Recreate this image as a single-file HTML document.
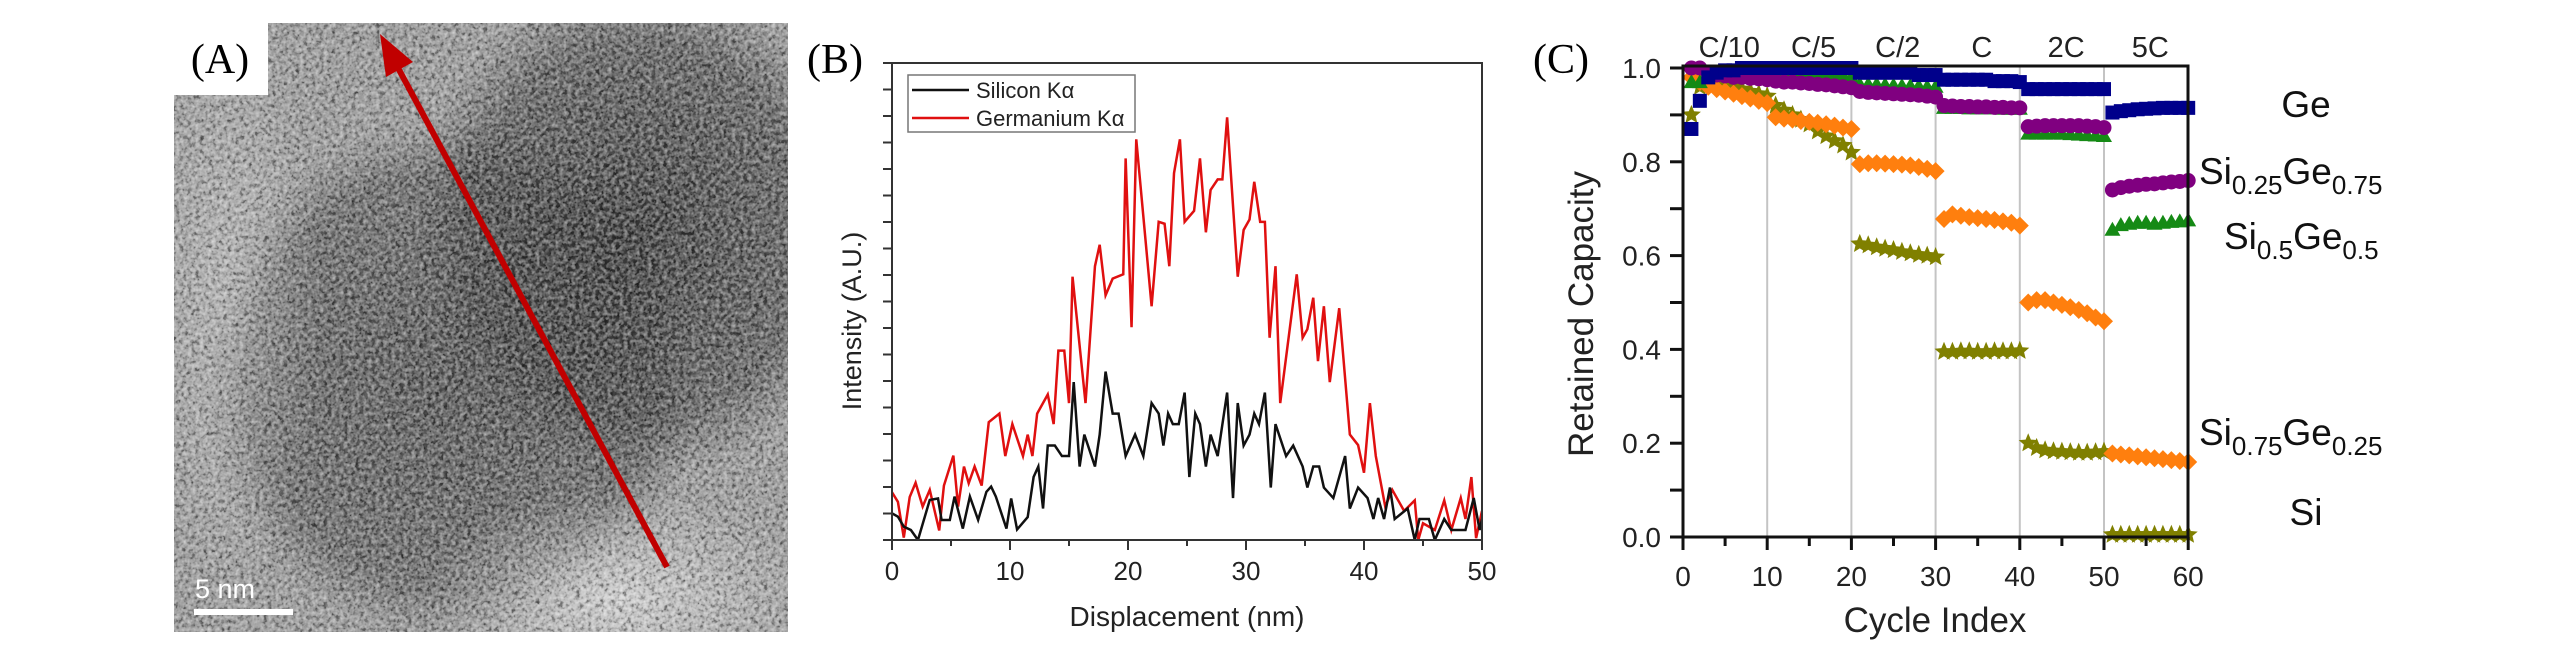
<!DOCTYPE html>
<html><head><meta charset="utf-8"><style>
html,body{margin:0;padding:0;background:#fff;width:2567px;height:661px;overflow:hidden;}
svg{display:block;}
text{font-family:"Liberation Sans",Arial,sans-serif;}
.serif{font-family:"Liberation Serif","Times New Roman",serif;}
</style></head><body>
<svg id="fig" width="2567" height="661" viewBox="0 0 2567 661" xmlns="http://www.w3.org/2000/svg">
<defs>
  <filter id="tex" x="0" y="0" width="100%" height="100%">
    <feTurbulence type="fractalNoise" baseFrequency="0.22" numOctaves="2" seed="4" result="n"/>
    <feColorMatrix in="n" type="matrix" values="0 0 0 0 0  0 0 0 0 0  0 0 0 0 0  1.8 0 0 0 -0.6" result="dark"/>
    <feTurbulence type="fractalNoise" baseFrequency="0.25" numOctaves="2" seed="9" result="n2"/>
    <feColorMatrix in="n2" type="matrix" values="0 0 0 0 1  0 0 0 0 1  0 0 0 0 1  1.7 0 0 0 -0.65" result="light"/>
    <feMerge><feMergeNode in="dark"/><feMergeNode in="light"/></feMerge>
  </filter>
  <radialGradient id="p1" cx="0.5" cy="0.5" r="0.5">
    <stop offset="0" stop-color="#3a3a3a" stop-opacity="0.75"/>
    <stop offset="0.8" stop-color="#444" stop-opacity="0.55"/>
    <stop offset="1" stop-color="#555" stop-opacity="0"/>
  </radialGradient>
  <radialGradient id="p2" cx="0.5" cy="0.5" r="0.5">
    <stop offset="0" stop-color="#222" stop-opacity="0.8"/>
    <stop offset="0.75" stop-color="#333" stop-opacity="0.55"/>
    <stop offset="1" stop-color="#444" stop-opacity="0"/>
  </radialGradient>
  <radialGradient id="p3" cx="0.5" cy="0.5" r="0.5">
    <stop offset="0" stop-color="#e0e0e0" stop-opacity="0.8"/>
    <stop offset="1" stop-color="#ddd" stop-opacity="0"/>
  </radialGradient>
  <clipPath id="temclip"><polygon points="268,23 788,23 788,632 174,632 174,95 268,95"/></clipPath>
  <clipPath id="bclip"><rect x="892" y="63" width="590" height="477"/></clipPath>
</defs>

<!-- Panel A -->
<g id="panel-a">
  <g clip-path="url(#temclip)">
    <rect x="174" y="23" width="614" height="609" fill="#9a9a9a"/>
    <ellipse cx="450" cy="380" rx="250" ry="260" fill="url(#p1)"/>
    <ellipse cx="640" cy="230" rx="230" ry="250" fill="url(#p2)"/>
    <ellipse cx="620" cy="600" rx="200" ry="110" fill="url(#p3)"/>
    <ellipse cx="230" cy="300" rx="90" ry="300" fill="url(#p3)" opacity="0.5"/>
    <rect x="174" y="23" width="614" height="609" filter="url(#tex)" opacity="0.6"/>
  </g>
  <text class="serif" x="220" y="73" font-size="42" text-anchor="middle" fill="#000">(A)</text>
  <g>
    <line x1="667" y1="567" x2="397" y2="66" stroke="#c00000" stroke-width="6"/>
    <polygon points="380,34 413,62 386,77" fill="#c00000"/>
  </g>
  <text x="195" y="598" font-size="27" fill="#fff">5 nm</text>
  <rect x="194" y="609" width="99" height="6" fill="#fff"/>
</g>

<!-- Panel B -->
<g id="panel-b">
  <text class="serif" x="835" y="73" font-size="42" text-anchor="middle">(B)</text>
  <g id="b-ticks"></g>
  <g id="b-lines" clip-path="url(#bclip)"></g>
  <rect x="892" y="63" width="590" height="477" fill="none" stroke="#333" stroke-width="2"/>
  <text x="0" y="0" font-size="27" text-anchor="middle" fill="#222" transform="translate(861,321) rotate(-90)">Intensity (A.U.)</text>
  <text x="1187" y="626" font-size="28" text-anchor="middle" fill="#222">Displacement (nm)</text>
  <g>
    <rect x="908" y="75" width="227" height="57" fill="#fff" stroke="#777" stroke-width="1.5"/>
    <line x1="912" y1="90" x2="969" y2="90" stroke="#111" stroke-width="2.5"/>
    <text x="976" y="98" font-size="22" fill="#222">Silicon Kα</text>
    <line x1="912" y1="118" x2="969" y2="118" stroke="#e01010" stroke-width="2.5"/>
    <text x="976" y="126" font-size="22" fill="#222">Germanium Kα</text>
  </g>
</g>

<!-- Panel C -->
<g id="panel-c">
  <text class="serif" x="1561" y="73" font-size="42" text-anchor="middle">(C)</text>
  <g id="c-grid"></g>
  <g id="c-marks"></g>
  <g id="c-ticks"></g>
  <rect x="1683" y="66" width="505" height="471" fill="none" stroke="#111" stroke-width="3"/>
  <text font-size="35" text-anchor="middle" fill="#222" transform="translate(1593,314) rotate(-90)">Retained Capacity</text>
  <text x="1935" y="632" font-size="35" text-anchor="middle" fill="#222">Cycle Index</text>
  <g id="c-rates"></g>
  <g font-size="37" fill="#111">
    <text x="2306" y="117" text-anchor="middle">Ge</text>
    <text x="2199" y="184">Si<tspan font-size="26" dy="10">0.25</tspan><tspan dy="-10">Ge</tspan><tspan font-size="26" dy="10">0.75</tspan></text>
    <text x="2224" y="249">Si<tspan font-size="26" dy="10">0.5</tspan><tspan dy="-10">Ge</tspan><tspan font-size="26" dy="10">0.5</tspan></text>
    <text x="2199" y="445">Si<tspan font-size="26" dy="10">0.75</tspan><tspan dy="-10">Ge</tspan><tspan font-size="26" dy="10">0.25</tspan></text>
    <text x="2306" y="525" text-anchor="middle">Si</text>
  </g>
</g>

<script>
// ---------- Panel B data ----------
const geDisp = [0,0.5,1,1.5,2,2.6,3.2,4,4.4,5.2,5.6,6.1,6.5,7,7.6,8.2,9.1,9.6,10.2,11.1,11.5,11.9,12.3,13.2,13.7,14.1,14.6,15,15.3,16.4,17.2,17.6,18.1,18.7,19.6,19.8,20.3,20.7,22,22.6,23.1,23.5,23.9,24.4,24.8,25.6,26.1,26.6,27,27.6,28,28.4,29.3,29.8,30.3,30.7,31.2,31.6,32,32.5,32.9,34.3,34.8,35.2,35.7,36.1,36.6,37.1,37.9,38.8,39.5,40,40.5,41,41.8,42.4,43.4,44.3,44.6,45,46,46.8,47.4,48.2,48.6,49.1,49.5,50];
const geIntensity = [10,8,0.5,9,12,7,10.5,2,11.4,17.7,7,15.4,11.9,15.4,11.4,24.7,26.5,17.6,24.3,17.6,22.1,17.6,26.5,30.5,24.3,39.7,39.7,28.7,55.2,28.7,57.4,61.9,51.3,54.8,55.7,80,44.6,84,49,66.7,66.3,57.4,76.9,84,66.7,69,80,64.5,73.4,75.6,75.6,88.6,55.2,65,67.2,75.1,66.7,66.7,42.4,57.4,28.7,55.7,42.4,44.2,50.8,37.5,49,33.1,48.6,22.1,19.9,14.1,28.7,17.6,7,10.5,6.1,8.3,0,3.5,2.1,8.3,2.1,8.8,4.4,13.2,0.4,6.1];
const siDisp = [0,0.5,1,1.6,2.2,3.2,3.9,4.2,4.9,5.3,6,6.6,7.3,8,8.4,8.8,9.7,10.1,10.6,11.5,12,12.4,12.8,13.2,13.8,14.4,15,15.4,15.9,16.3,17.2,17.6,18.1,18.7,19.2,19.8,20.6,21.3,22,22.6,23,23.4,23.8,24.3,24.8,25.2,25.7,26.1,26.6,27,27.6,28.4,28.9,29.3,29.8,30.3,30.7,31.1,31.6,32.1,32.5,33.4,34,34.8,35.2,35.7,36.2,36.6,37.4,38.4,38.8,39.5,40.3,40.8,41.2,41.7,42.2,42.6,43.7,44.3,44.7,45.5,46,46.8,47.4,48.6,49.3,49.8,50];
const siIntensity = [5.6,4.9,2.8,2.1,0,8.4,8.7,4.2,4.2,9.1,2.4,9.1,4.2,10.1,11.2,9.1,2.4,8.7,2.2,4.8,13.2,15.4,6.6,19.8,19.8,17.6,17.6,33.1,15.4,22.1,15.4,22.1,35.3,26.5,26.5,17.6,22.1,17.6,28.7,26.5,19.8,26.5,24.3,24.3,30.9,13.2,26.5,24.3,15.4,22.1,17.6,30.9,8.8,28.7,19.8,22.1,26.5,24.3,30.9,11,24.3,17.6,19.8,15.4,11,15.4,15.4,11,8.8,17.6,6.6,11,8.8,4.4,8.8,4.4,11,4.4,6.6,0,4.4,4.4,0,4.4,2.1,2.1,8.8,2.1,4.4];
const bXTicks = [0,10,20,30,40,50];

// ---------- Panel C data ----------
const rateLabels = ['C/10','C/5','C/2','C','2C','5C'];
const rateBoundaries = [10,20,30,40,50];
const cXTicks = [0,10,20,30,40,50,60];
const cYTicks = [0.0,0.2,0.4,0.6,0.8,1.0];
const capGe = [0.87,0.93,0.98,0.99,0.995,0.995,1.0,1.0,1.0,1.0, 1.0,1.0,1.0,1.0,1.0,1.0,1.0,1.0,1.0,1.0, 0.99,0.99,0.99,0.99,0.99,0.99,0.99,0.985,0.985,0.985, 0.975,0.975,0.975,0.975,0.975,0.975,0.972,0.972,0.972,0.97, 0.955,0.955,0.955,0.955,0.955,0.955,0.955,0.955,0.955,0.955, 0.905,0.908,0.91,0.912,0.913,0.914,0.915,0.915,0.915,0.915];
const capSi25Ge75 = [1.0,1.0,0.99,0.985,0.983,0.98,0.98,0.978,0.977,0.975, 0.972,0.97,0.97,0.968,0.967,0.965,0.964,0.962,0.96,0.958, 0.95,0.948,0.947,0.946,0.945,0.944,0.943,0.942,0.94,0.938, 0.92,0.919,0.918,0.918,0.917,0.917,0.916,0.916,0.915,0.915, 0.875,0.876,0.877,0.877,0.877,0.877,0.877,0.876,0.875,0.873, 0.74,0.745,0.748,0.75,0.752,0.753,0.755,0.757,0.758,0.76];
const capSi50Ge50 = [0.97,0.97,0.99,0.99,0.99,0.99,0.99,0.99,0.99,0.99, 0.985,0.985,0.985,0.985,0.985,0.985,0.985,0.985,0.985,0.98, 0.965,0.965,0.965,0.964,0.963,0.962,0.962,0.961,0.96,0.96, 0.915,0.915,0.915,0.914,0.914,0.914,0.914,0.913,0.913,0.913, 0.86,0.86,0.86,0.86,0.86,0.859,0.858,0.857,0.856,0.855, 0.655,0.665,0.668,0.67,0.67,0.668,0.67,0.672,0.673,0.675];
const capSi75Ge25 = [0.98,0.97,0.96,0.955,0.95,0.945,0.94,0.935,0.93,0.925, 0.895,0.892,0.89,0.887,0.885,0.883,0.88,0.877,0.873,0.87, 0.795,0.797,0.797,0.796,0.795,0.794,0.792,0.789,0.785,0.78, 0.678,0.688,0.685,0.682,0.68,0.678,0.676,0.673,0.67,0.664, 0.5,0.505,0.505,0.5,0.495,0.49,0.484,0.477,0.468,0.46, 0.178,0.176,0.174,0.172,0.17,0.168,0.166,0.164,0.162,0.16];
const capSi = [0.90,0.96,0.97,0.97,0.965,0.96,0.955,0.95,0.945,0.94, 0.92,0.91,0.9,0.89,0.88,0.865,0.855,0.845,0.835,0.82, 0.625,0.622,0.618,0.615,0.612,0.608,0.605,0.602,0.6,0.597, 0.395,0.395,0.396,0.396,0.395,0.395,0.396,0.396,0.396,0.397, 0.2,0.19,0.185,0.183,0.182,0.181,0.18,0.18,0.181,0.182, 0.005,0.005,0.005,0.005,0.005,0.005,0.005,0.005,0.005,0.005];

const NS = 'http://www.w3.org/2000/svg';
function mk(tag, attrs, parent){ const e=document.createElementNS(NS,tag); for(const k in attrs) e.setAttribute(k,attrs[k]); parent.appendChild(e); return e; }

// Panel B axes
const bx = d => 892 + d*11.8;
const by = v => 540 - v*4.77;
const bt = document.getElementById('b-ticks');
for (let i=0;i<=18;i++){ const y=540-i*26.5; const t=mk('line',{x1:883,x2:892,y1:y,y2:y,stroke:'#333','stroke-width':2},bt);

 }
for (let d=0; d<=50; d+=5){ const major = d%10===0; const t=mk('line',{x1:bx(d),x2:bx(d),y1:540,y2:major?550:546,stroke:'#333','stroke-width':2},bt);

 }
bXTicks.forEach(v=>{ const t=mk('text',{x:bx(v),y:580,'font-size':26,'text-anchor':'middle',fill:'#222'},bt); t.textContent=v;

 });
const bl = document.getElementById('b-lines');
function series(xs, ys, color, name){ const p=mk('polyline',{points:xs.map((d,i)=>bx(d)+','+by(ys[i])).join(' '),fill:'none',stroke:color,'stroke-width':2.5,'stroke-linejoin':'miter'},bl);

 }
series(geDisp, geIntensity, '#e01010', 'germanium-line');
series(siDisp, siIntensity, '#111', 'silicon-line');

// Panel C axes
const cx = c => 1683 + c*8.42;
const cy = v => 537 - v*469;
const cg = document.getElementById('c-grid');
rateBoundaries.forEach(c=>{ const l=mk('line',{x1:cx(c),x2:cx(c),y1:66,y2:537,stroke:'#c4c4c4','stroke-width':2},cg);

 });
const ct = document.getElementById('c-ticks');
for (let i=0;i<=10;i++){ const v=i/10; const t=mk('line',{x1:1670,x2:1683,y1:cy(v),y2:cy(v),stroke:'#111','stroke-width':3},ct);

 }
cYTicks.forEach(v=>{ const t=mk('text',{x:1661,y:cy(v)+10,'font-size':28,'text-anchor':'end',fill:'#222'},ct); t.textContent=v.toFixed(1);

 });
for (let c=0;c<=60;c+=5){ const major=c%10===0; const t=mk('line',{x1:cx(c),x2:cx(c),y1:537,y2:major?550:546,stroke:'#111','stroke-width':3},ct);

 }
cXTicks.forEach(v=>{ const t=mk('text',{x:cx(v),y:586,'font-size':28,'text-anchor':'middle',fill:'#222'},ct); t.textContent=v;

 });
const cr = document.getElementById('c-rates');
rateLabels.forEach((r,i)=>{ const t=mk('text',{x:cx(i*10+5.5),y:57,'font-size':29,'text-anchor':'middle',fill:'#222'},cr); t.textContent=r;

 });

const cm = document.getElementById('c-marks');
function starPts(x,y,R,r){ const p=[]; for(let k=0;k<10;k++){ const a=-Math.PI/2+k*Math.PI/5; const rr=k%2?r:R; p.push((x+rr*Math.cos(a)).toFixed(1)+','+(y+rr*Math.sin(a)).toFixed(1)); } return p.join(' '); }
function drawSeries(vals, color, shape, name){
  const g=mk('g',{fill:color},cm);
  
  
  vals.forEach((v,i)=>{ const x=cx(i+1), y=cy(v); let m;
    if(shape==='square') m=mk('rect',{x:x-7,y:y-7,width:14,height:14},g);
    else if(shape==='circle') m=mk('circle',{cx:x,cy:y,r:7.5},g);
    else if(shape==='triangle') m=mk('polygon',{points:`${x},${y-8} ${x+8},${y+6} ${x-8},${y+6}`},g);
    else if(shape==='diamond') m=mk('polygon',{points:`${x},${y-9} ${x+9},${y} ${x},${y+9} ${x-9},${y}`},g);
    else m=mk('polygon',{points:starPts(x,y,10,4.5)},g);
    
    
  });
}
drawSeries(capSi, '#808000', 'star', 'series-si');
drawSeries(capSi75Ge25, '#ff7f0e', 'diamond', 'series-si075ge025');
drawSeries(capSi50Ge50, '#158a15', 'triangle', 'series-si05ge05');
drawSeries(capSi25Ge75, '#800080', 'circle', 'series-si025ge075');
drawSeries(capGe, '#00008b', 'square', 'series-ge');
</script>
</svg>
</body></html>
